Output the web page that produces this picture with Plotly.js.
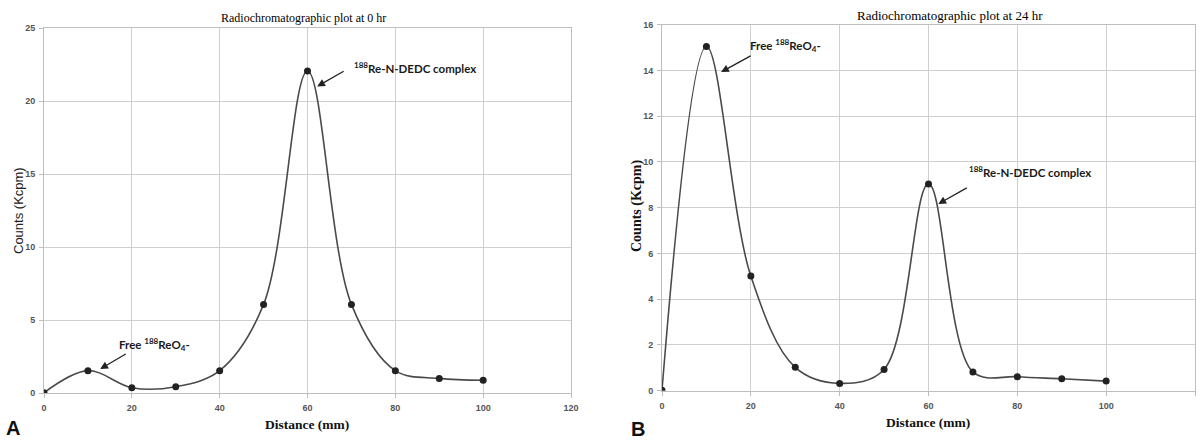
<!DOCTYPE html>
<html>
<head>
<meta charset="utf-8">
<script src="https://cdn.plot.ly/plotly-3.0.1.min.js"></script>
<style>html,body{margin:0;padding:0;background:#fff;}#chart{width:1202px;height:441px;}</style>
</head>
<body>
<div id="chart"></div>
<script>
// Data
const distance = [0, 10, 20, 30, 40, 50, 60, 70, 80, 90, 100];
const countsA = [0.02, 1.53, 0.36, 0.43, 1.53, 6.07, 22.05, 6.07, 1.53, 1.0, 0.87];
const countsB = [0.02, 15.05, 5.01, 1.02, 0.32, 0.93, 9.04, 0.82, 0.61, 0.52, 0.42];
const xTicksA = [0, 20, 40, 60, 80, 100, 120];
const yTicksA = [0, 5, 10, 15, 20, 25];
const xTicksB = [0, 20, 40, 60, 80, 100, 120];
const yTicksB = [0, 2, 4, 6, 8, 10, 12, 14, 16];
const titleA = "Radiochromatographic plot at 0 hr";
const titleB = "Radiochromatographic plot at 24 hr";
const xTitle = "Distance (mm)";
const yTitle = "Counts (Kcpm)";
const labelFree = "Free <sup>188</sup>ReO<sub>4</sub>-";
const labelComplex = "<sup>188</sup>Re-N-DEDC complex";

const W = 1202, H = 441;
const px = v => v / W;
const py = v => 1 - v / H;

const lineStyle = {color: '#4a4a4a', width: 1.6, shape: 'spline', smoothing: 1};
const markerStyle = {color: '#222', size: 7};

const traces = [
  {x: distance, y: countsA, xaxis: 'x', yaxis: 'y', mode: 'lines+markers', line: lineStyle, marker: markerStyle, hoverinfo: 'x+y'},
  {x: distance, y: countsB, xaxis: 'x2', yaxis: 'y2', mode: 'lines+markers', line: lineStyle, marker: markerStyle, hoverinfo: 'x+y'}
];

const tickFont = {family: 'Liberation Sans, Arial, sans-serif', size: 9, color: '#555', weight: 'bold'};
function xax(domain, anchor, vals) {
  return {domain: domain, anchor: anchor, range: [0, 120], tickvals: vals, ticktext: vals.map(String),
    showgrid: true, gridcolor: '#cfcfcf', gridwidth: 1, zeroline: false,
    showline: true, linecolor: '#bdbdbd', linewidth: 1, mirror: true,
    ticks: 'outside', ticklen: 4, tickcolor: '#bdbdbd', tickfont: tickFont, ticklabelstandoff: 2, fixedrange: true};
}
function yax(domain, anchor, range, vals) {
  return {domain: domain, anchor: anchor, range: range, tickvals: vals, ticktext: vals.map(String),
    showgrid: true, gridcolor: '#cfcfcf', gridwidth: 1, zeroline: false,
    showline: true, linecolor: '#bdbdbd', linewidth: 1, mirror: true,
    ticks: 'outside', ticklen: 4, tickcolor: '#bdbdbd', tickfont: tickFont, ticklabelstandoff: 2, fixedrange: true};
}

const serif = 'Liberation Serif, Times New Roman, serif';
const sans = 'Liberation Sans, Arial, sans-serif';
const annFont = {family: 'Lato, Liberation Sans, sans-serif', size: 11.5, color: '#1a1a1a', weight: 'bold'};

function arrow(xref, yref, x, y, ax, ay) {
  return {xref: xref, yref: yref, x: x, y: y, ax: ax, ay: ay, text: '', showarrow: true,
    arrowhead: 2, arrowsize: 1.2, arrowwidth: 1.3, arrowcolor: '#222'};
}
function label(xref, yref, x, y, text) {
  return {xref: xref, yref: yref, x: x, y: y, text: text, showarrow: false, xanchor: 'left', yanchor: 'middle', font: annFont};
}
function paperText(x, y, text, font) {
  return {xref: 'paper', yref: 'paper', x: px(x), y: py(y), text: text, showarrow: false, xanchor: 'center', yanchor: 'middle', font: font};
}

const annotations = [
  // titles
  paperText(303, 18, titleA, {family: serif, size: 12, color: '#000'}),
  paperText(950, 15, titleB, {family: serif, size: 13, color: '#000'}),
  // x titles
  paperText(307, 424, xTitle, {family: serif, size: 13.5, color: '#111', weight: 'bold'}),
  paperText(928, 422, xTitle, {family: serif, size: 13.5, color: '#111', weight: 'bold'}),
  // y titles
  Object.assign(paperText(18, 211, yTitle, {family: sans, size: 13, color: '#222'}), {textangle: -90}),
  Object.assign(paperText(637, 206, yTitle, {family: serif, size: 14, color: '#111', weight: 'bold'}), {textangle: -90}),
  // panel letters
  paperText(13, 428, 'A', {family: sans, size: 20, color: '#111', weight: 'bold'}),
  paperText(638, 429, 'B', {family: sans, size: 20, color: '#111', weight: 'bold'}),
  // panel A annotations
  arrow('x', 'y', 62.2, 21.0, 28, -16),
  label('x', 'y', 70.2, 22.3, labelComplex),
  arrow('x', 'y', 12.8, 1.64, 27, -16),
  label('x', 'y', 16.6, 3.3, labelFree),
  // panel B annotations
  arrow('x2', 'y2', 13.3, 13.93, 31, -17),
  label('x2', 'y2', 19.4, 15.07, labelFree),
  arrow('x2', 'y2', 62.2, 8.16, 30, -17),
  label('x2', 'y2', 68.7, 9.6, labelComplex)
];

const layout = {
  width: W, height: H,
  margin: {l: 0, r: 0, t: 0, b: 0},
  paper_bgcolor: '#fff', plot_bgcolor: '#fff',
  showlegend: false,
  xaxis: xax([px(44), px(571)], 'y', xTicksA),
  yaxis: yax([py(393), py(28)], 'x', [0, 25], yTicksA),
  xaxis2: xax([px(662), px(1195)], 'y2', xTicksB),
  yaxis2: yax([py(390.7), py(24.7)], 'x2', [0, 16], yTicksB),
  annotations: annotations
};

Plotly.newPlot('chart', traces, layout, {displayModeBar: false, staticPlot: true});
</script>
</body>
</html>
